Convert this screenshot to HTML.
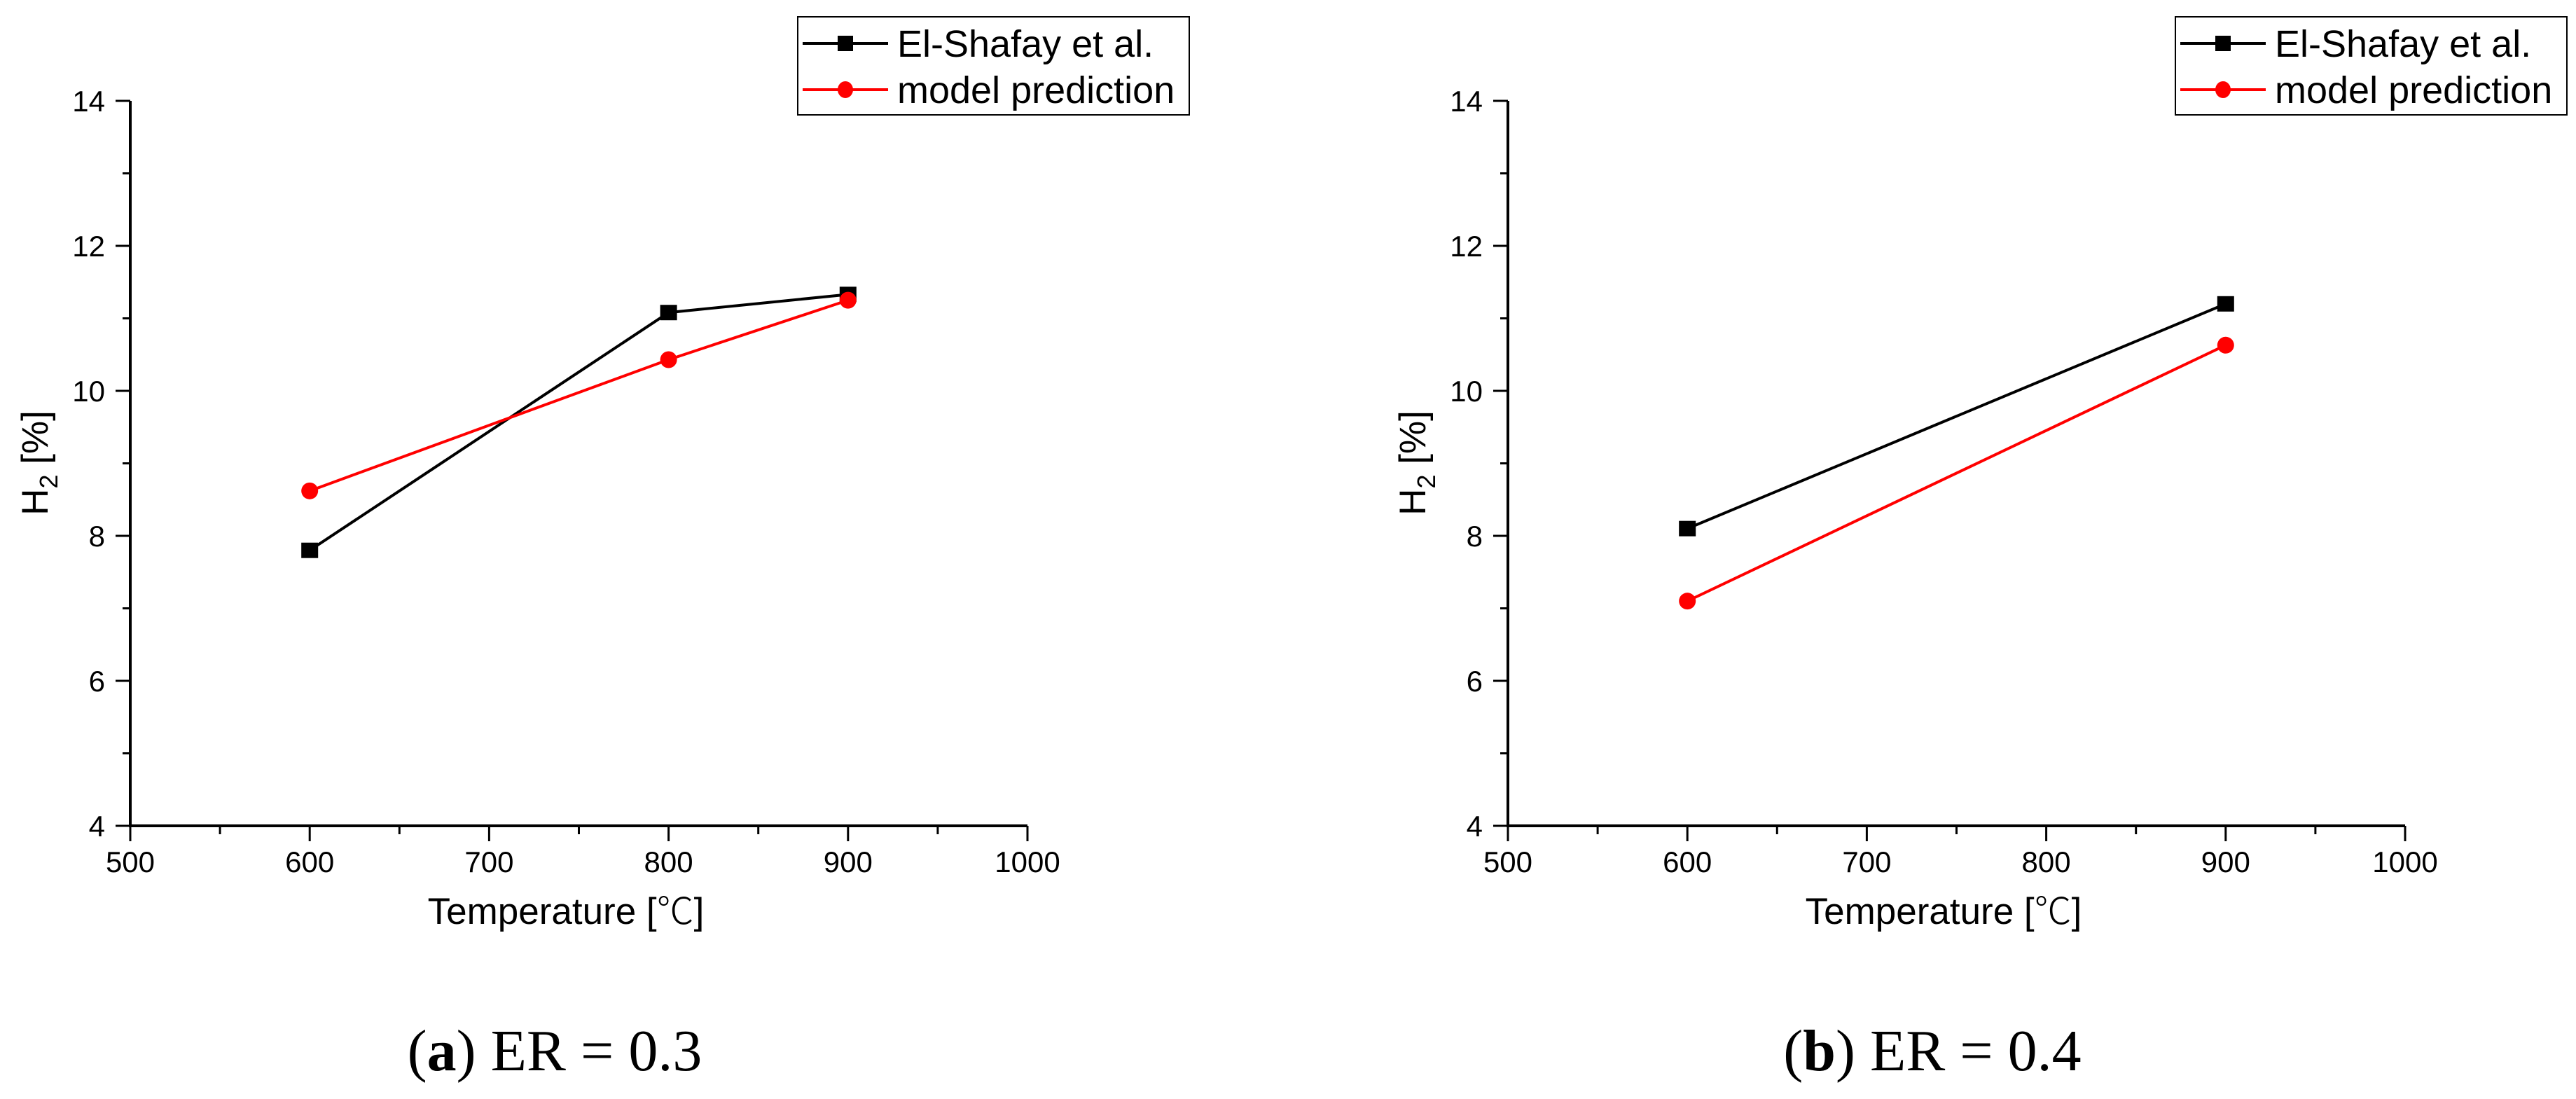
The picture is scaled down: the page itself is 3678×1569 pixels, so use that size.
<!DOCTYPE html>
<html><head><meta charset="utf-8"><style>
html,body{margin:0;padding:0;background:#fff}
svg{display:block}
text{font-family:"Liberation Sans",Arial,sans-serif}
.cap{font-family:"Liberation Serif","Times New Roman",serif}
</style></head><body>
<svg id="fig" width="3678" height="1569" viewBox="0 0 3678 1569" xmlns="http://www.w3.org/2000/svg"></svg>
<script>
const xTicks=[500,600,700,800,900,1000];
const yTicks=[4,6,8,10,12,14];
const tempA=[600,800,900];
const expA=[7.8,11.08,11.33];
const modA=[8.62,10.43,11.25];
const tempB=[600,900];
const expB=[8.1,11.2];
const modB=[7.1,10.63];
const NS="http://www.w3.org/2000/svg";
const svg=document.getElementById('fig');
function mk(tag,attrs,parent,txt){const e=document.createElementNS(NS,tag);for(const k in attrs)e.setAttribute(k,attrs[k]);if(txt!==undefined)e.textContent=txt;(parent||svg).appendChild(e);return e;}
function panel(ox,id,temps,exp,mod,letter,er){
  const g=mk('g',{});
  
  
  const L=ox+186,R=ox+1467,T=144,B=1179;
  const sx=v=>L+(v-500)/500*(R-L);
  const sy=v=>B-(v-4)/10*(B-T);
  // axes
  const ax=mk('path',{d:`M${L},${T} L${L},${B} L${R},${B}`,fill:'none',stroke:'#000','stroke-width':4},g);
  
  
  for(let v=500;v<=1000;v+=50){const maj=v%100===0;mk('line',{x1:sx(v),x2:sx(v),y1:B,y2:B+(maj?22:12),stroke:'#000','stroke-width':3},g);}
  for(let v=4;v<=14;v+=1){const maj=v%2===0;mk('line',{x1:L,x2:L-(maj?21:11),y1:sy(v),y2:sy(v),stroke:'#000','stroke-width':3},g);}
  xTicks.forEach(v=>{const t=mk('text',{x:sx(v),y:1245,'font-size':42,'text-anchor':'middle'},g,String(v));
    
    });
  yTicks.forEach(v=>{const t=mk('text',{x:L-36,y:sy(v)+15,'font-size':42,'text-anchor':'end'},g,String(v));
    
    });
  const xt=mk('text',{x:ox+808,y:1319,'font-size':53,'text-anchor':'middle'},g);
  
  
  mk('tspan',{},xt,'Temperature [');
  mk('tspan',{'font-family':'"Noto Sans CJK SC",sans-serif','font-weight':'300'},xt,'℃');
  mk('tspan',{},xt,']');
  const yt=mk('text',{transform:`translate(${ox+68},${661}) rotate(-90)`,'font-size':53,'text-anchor':'middle'},g);
  
  
  mk('tspan',{},yt,'H');
  mk('tspan',{'font-size':36,dy:14},yt,'2');
  mk('tspan',{dy:-14},yt,' [%]');
  // series
  const pe=mk('polyline',{points:temps.map((t,i)=>sx(t)+','+sy(exp[i])).join(' '),fill:'none',stroke:'#000','stroke-width':4},g);
  
  
  const pm=mk('polyline',{points:temps.map((t,i)=>sx(t)+','+sy(mod[i])).join(' '),fill:'none',stroke:'#f00','stroke-width':4},g);
  
  
  temps.forEach((t,i)=>{const r=mk('rect',{x:sx(t)-12,y:sy(exp[i])-11,width:24,height:22,fill:'#000'},g);
    
    });
  temps.forEach((t,i)=>{const c=mk('ellipse',{cx:sx(t),cy:sy(mod[i]),rx:12,ry:12,fill:'#f00'},g);
    
    });
  // legend
  const lg=mk('g',{},g);
  
  
  mk('rect',{x:ox+1139,y:24,width:559,height:140,fill:'#fff',stroke:'#000','stroke-width':2},lg);
  const e1=mk('g',{},lg);
  
  
  mk('line',{x1:ox+1146,x2:ox+1268,y1:62,y2:62,stroke:'#000','stroke-width':4},e1);
  mk('rect',{x:ox+1196,y:51,width:22,height:22,fill:'#000'},e1);
  mk('text',{x:ox+1281,y:81,'font-size':54},e1,'El-Shafay et al.');
  const e2=mk('g',{},lg);
  
  
  mk('line',{x1:ox+1146,x2:ox+1268,y1:128,y2:128,stroke:'#f00','stroke-width':4},e2);
  mk('ellipse',{cx:ox+1207,cy:128,rx:11,ry:12,fill:'#f00'},e2);
  mk('text',{x:ox+1281,y:147,'font-size':54},e2,'model prediction');
  // caption
  const cp=mk('text',{x:ox+792,y:1528,'font-size':84,'text-anchor':'middle','class':'cap'},g);
  
  
  mk('tspan',{},cp,'(');
  mk('tspan',{'font-weight':'bold'},cp,letter);
  mk('tspan',{},cp,') ER = '+er);
}
panel(0,'a',tempA,expA,modA,'a','0.3');
panel(1967,'b',tempB,expB,modB,'b','0.4');
</script>
</body></html>
